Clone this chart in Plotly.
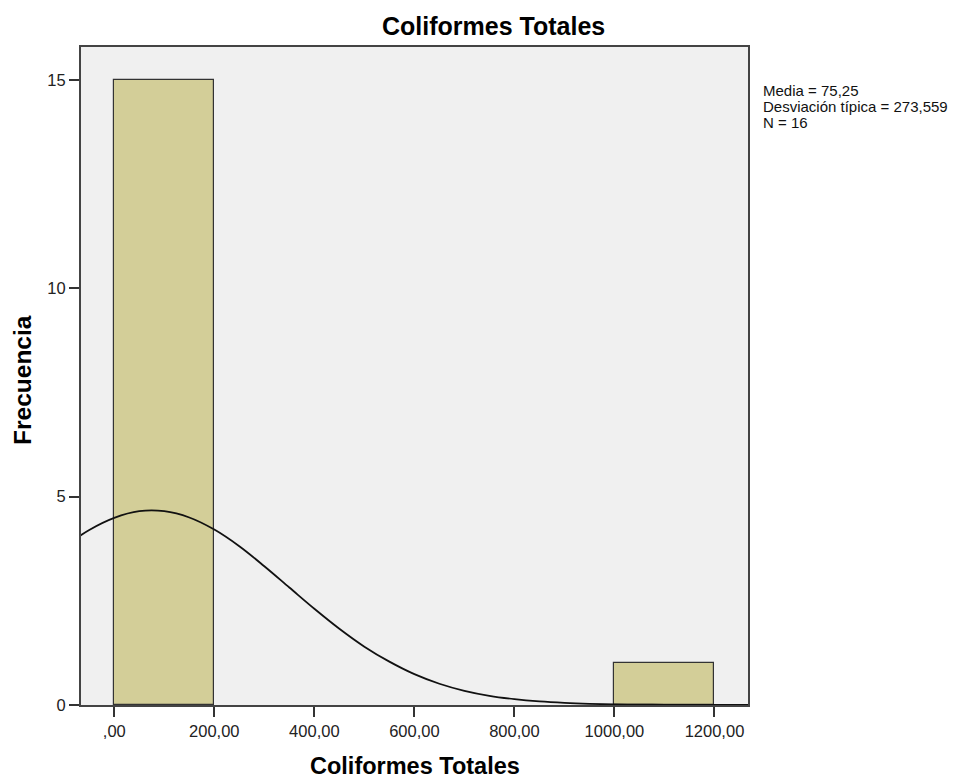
import plotly.graph_objects as go

# Histogram bins (left edges) and counts
bin_left = [0, 1000]
bin_width = 200
counts = [15, 1]

# Normal curve (x, frequency)
curve_x = [-100, -50, 0, 50, 100, 150, 200, 250, 300, 350, 400, 450, 500, 550,
           600, 650, 700, 750, 800, 850, 900, 950, 1000, 1050, 1100, 1150, 1200, 1250, 1300]
curve_y = [3.80, 4.20, 4.49, 4.65, 4.65, 4.50, 4.21, 3.81, 3.33, 2.82, 2.31, 1.83, 1.40, 1.04,
           0.74, 0.51, 0.34, 0.22, 0.14, 0.085, 0.05, 0.028, 0.015, 0.008, 0.004, 0.002, 0.001, 0.0005, 0.0]

x_tickvals = [0, 200, 400, 600, 800, 1000, 1200]
x_ticktext = [",00", "200,00", "400,00", "600,00", "800,00", "1000,00", "1200,00"]
y_tickvals = [0, 5, 10, 15]

stats_lines = ["Media = 75,25", "Desviación típica = 273,559", "N = 16"]

title_text = "Coliformes Totales"
x_title = "Coliformes Totales"
y_title = "Frecuencia"

font_family = "Liberation Sans, Arial, sans-serif"

# page body has an 8px margin, so the figure is a bit smaller than the window
W, H = 969, 773
L, R, T, B = 73, 229, 39, 76
plot_w = W - L - R
plot_h = H - T - B

fig = go.Figure()

fig.add_trace(go.Bar(
    x=[b + bin_width / 2 for b in bin_left],
    y=counts,
    width=[bin_width] * len(counts),
    marker=dict(color="#D3CE98", line=dict(color="#333333", width=1.2)),
    hoverinfo="x+y",
))

fig.add_trace(go.Scatter(
    x=curve_x, y=curve_y, mode="lines",
    line=dict(color="#111111", width=1.8, shape="spline"),
))

fig.update_layout(
    width=W, height=H,
    paper_bgcolor="white",
    plot_bgcolor="#F0F0F0",
    showlegend=False,
    margin=dict(l=L, r=R, t=T, b=B),
    font=dict(family=font_family, size=16, color="#222222"),
    bargap=0,
)

fig.update_xaxes(
    range=[-66.5, 1267], tickvals=x_tickvals, ticktext=x_ticktext,
    ticks="outside", ticklen=10, tickcolor="#333333", tickwidth=1.5,
    showline=True, linecolor="#444444", linewidth=2, mirror=True,
    showgrid=False, zeroline=False,
    tickfont=dict(size=16.5, color="#222222"),
)

fig.update_yaxes(
    range=[0, 15.79], tickvals=y_tickvals,
    ticks="outside", ticklen=10, tickcolor="#333333", tickwidth=1.5,
    showline=True, linecolor="#444444", linewidth=2, mirror=True,
    showgrid=False, zeroline=False,
    tickfont=dict(size=16.5, color="#222222"),
)

# chart title
fig.add_annotation(
    text="<b>" + title_text + "</b>", xref="paper", yref="paper",
    x=(485 - L) / plot_w, y=1 + (T - 18) / plot_h,
    xanchor="center", yanchor="middle", showarrow=False,
    font=dict(family=font_family, size=25, color="black"),
)

# axis titles
fig.add_annotation(
    text="<b>" + x_title + "</b>", xref="paper", yref="paper",
    x=0.5, y=-61 / plot_h, xanchor="center", yanchor="middle", showarrow=False,
    font=dict(family=font_family, size=23.5, color="black"),
)
fig.add_annotation(
    text="<b>" + y_title + "</b>", xref="paper", yref="paper",
    x=-58 / plot_w, y=0.494, xanchor="center", yanchor="middle", showarrow=False,
    textangle=-90,
    font=dict(family=font_family, size=24.5, color="black"),
)

# statistics box text
for i, line in enumerate(stats_lines):
    fig.add_annotation(
        text=line, xref="paper", yref="paper",
        x=1 + 13 / plot_w, y=1 - (44 + 15.5 * i) / plot_h,
        xanchor="left", yanchor="middle", showarrow=False,
        font=dict(family=font_family, size=15, color="#111111"),
    )

fig.write_html("out.html")
